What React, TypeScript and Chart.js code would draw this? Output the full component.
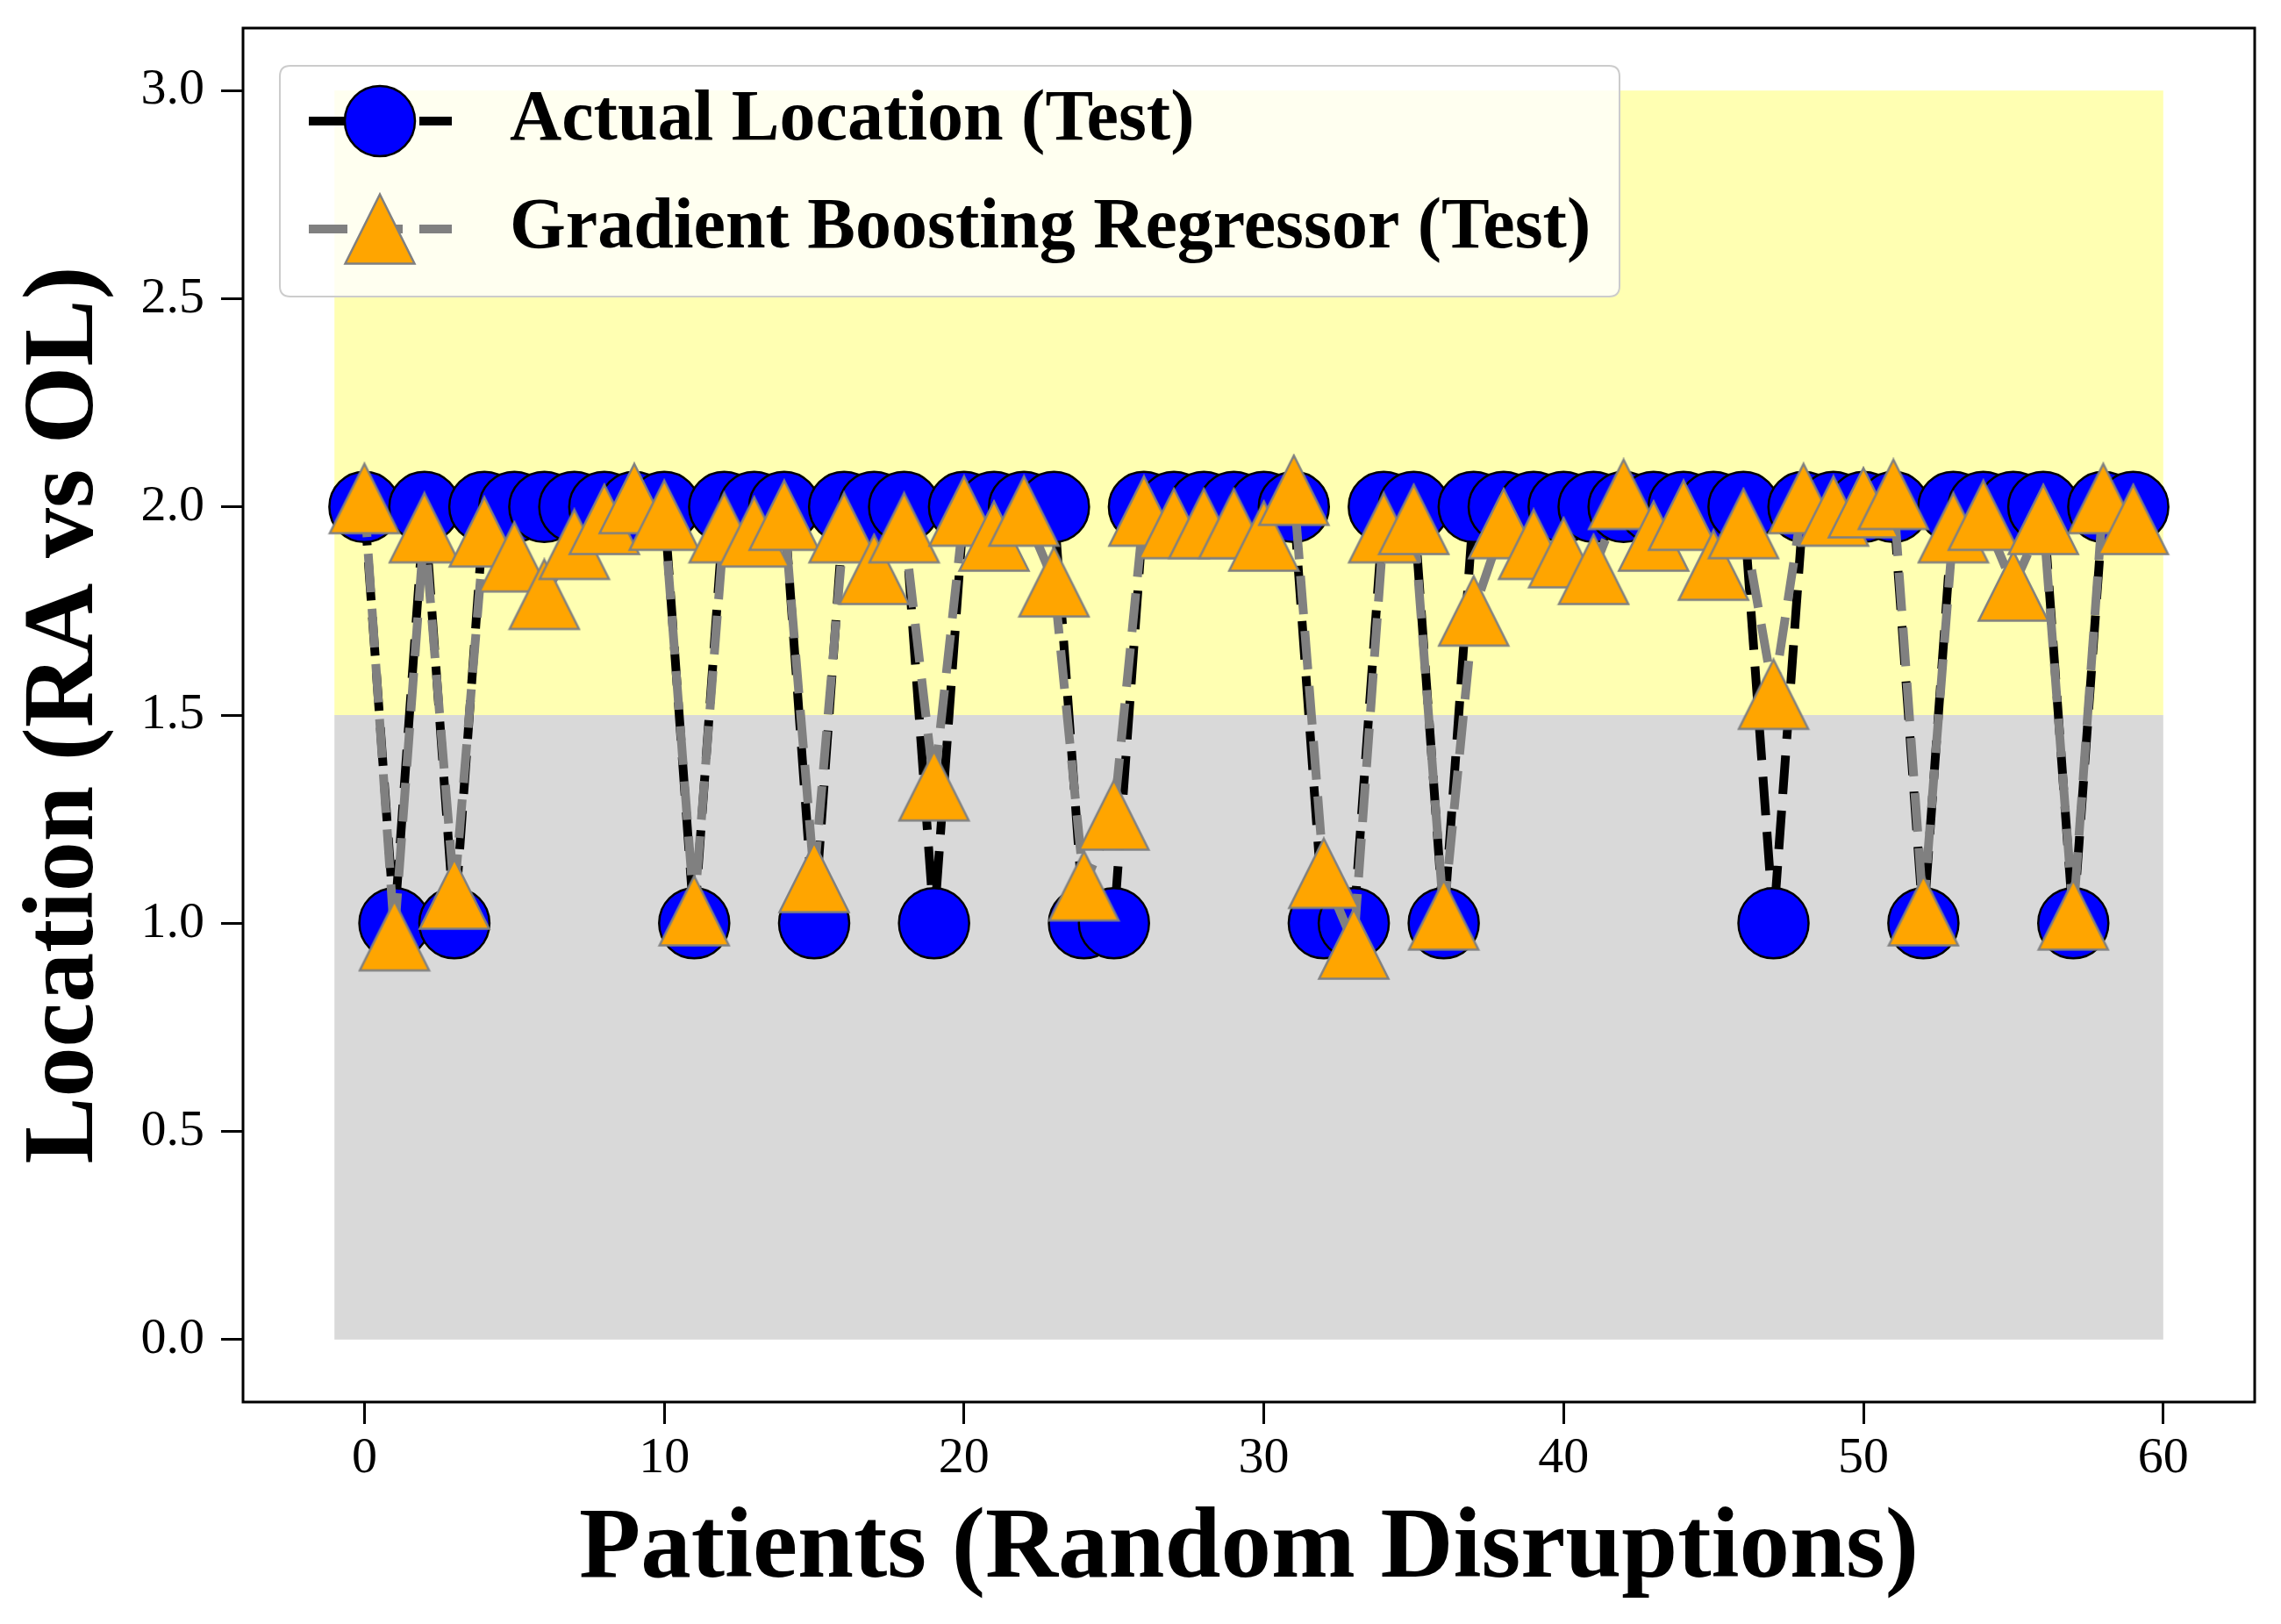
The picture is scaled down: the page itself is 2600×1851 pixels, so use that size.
import React, { useEffect, useRef } from "react";
import { Chart, registerables } from "chart.js";

Chart.register(...registerables);

// ---------------- data ----------------
const patients = [
  0, 1, 2, 3, 4, 5, 6, 7, 8, 9,
  10, 11, 12, 13, 14, 15, 16, 17, 18, 19,
  20, 21, 22, 23, 24, 25, 26, 27, 28, 29,
  30, 31, 32, 33, 34, 35, 36, 37, 38, 39,
  40, 41, 42, 43, 44, 45, 46, 47, 48, 49,
  50, 51, 52, 53, 54, 55, 56, 57, 58, 59,
];

const actualLocation = [
  2, 1, 2, 1, 2, 2, 2, 2, 2, 2,
  2, 1, 2, 2, 2, 1, 2, 2, 2, 1,
  2, 2, 2, 2, 1, 1, 2, 2, 2, 2,
  2, 2, 1, 1, 2, 2, 1, 2, 2, 2,
  2, 2, 2, 2, 2, 2, 2, 1, 2, 2,
  2, 2, 1, 2, 2, 2, 2, 1, 2, 2,
];

const gbrPrediction = [
  2.02, 0.97, 1.95, 1.07, 1.94, 1.88, 1.79, 1.91, 1.97, 2.02,
  1.98, 1.03, 1.95, 1.94, 1.98, 1.11, 1.95, 1.85, 1.95, 1.33,
  1.99, 1.93, 1.99, 1.82, 1.09, 1.26, 1.99, 1.96, 1.96, 1.96,
  1.93, 2.04, 1.12, 0.95, 1.95, 1.97, 1.02, 1.75, 1.96, 1.91,
  1.89, 1.85, 2.03, 1.93, 1.98, 1.86, 1.96, 1.55, 2.02, 1.99,
  2.01, 2.03, 1.03, 1.95, 1.98, 1.81, 1.97, 1.02, 2.02, 1.97,
];

const seriesLabels = ["Actual Location (Test)", "Gradient Boosting Regressor (Test)"];
const xTickValues = [0, 10, 20, 30, 40, 50, 60];
const yTickValues = [0, 0.5, 1.0, 1.5, 2.0, 2.5, 3.0];
const bandXRange = [-1, 60];
const upperBand = [1.5, 3.0];
const lowerBand = [0, 1.5];
const xLabel = "Patients (Random Disruptions)";
const yLabel = "Location (RA vs OL)";

// ---------------- styles ----------------
const SERIF = '"Liberation Serif", "Times New Roman", Times, serif';
const BLUE = "#0000ff";
const ORANGE = "#ffa500";
const GRAY = "#808080";
const DASH = [44, 19];
const LINE_W = 10;

function makeTriangle(size: number, fill: string, stroke: string, lw: number) {
  const c = document.createElement("canvas");
  c.width = size;
  c.height = size;
  const ctx = c.getContext("2d")!;
  const p = lw;
  ctx.beginPath();
  ctx.moveTo(size / 2, p);
  ctx.lineTo(size - p, size - p);
  ctx.lineTo(p, size - p);
  ctx.closePath();
  ctx.fillStyle = fill;
  ctx.fill();
  ctx.lineWidth = lw;
  ctx.strokeStyle = stroke;
  ctx.lineJoin = "miter";
  ctx.stroke();
  return c;
}

function zeroPad(s: any) {
  s.paddingTop = 0;
  s.paddingBottom = 0;
  s.paddingLeft = 0;
  s.paddingRight = 0;
}

export default function App() {
  const ref = useRef<HTMLCanvasElement | null>(null);

  useEffect(() => {
    document.body.style.margin = "0";
    document.body.style.overflow = "hidden";
    const canvas = ref.current;
    if (!canvas) return;
    const tri = makeTriangle(84, ORANGE, GRAY, 2.5);

    const bandsPlugin = {
      id: "bands",
      beforeDatasetsDraw(chart: any) {
        const { ctx, scales } = chart;
        const xs = scales.x;
        const ys = scales.y;
        const x0 = xs.getPixelForValue(bandXRange[0]);
        const x1 = xs.getPixelForValue(bandXRange[1]);
        ctx.save();
        ctx.fillStyle = "rgb(255,255,178)";
        let yT = ys.getPixelForValue(upperBand[1]);
        let yB = ys.getPixelForValue(upperBand[0]);
        ctx.fillRect(x0, yT, x1 - x0, yB - yT);
        ctx.fillStyle = "rgb(217,217,217)";
        yT = ys.getPixelForValue(lowerBand[1]);
        yB = ys.getPixelForValue(lowerBand[0]);
        ctx.fillRect(x0, yT, x1 - x0, yB - yT);
        ctx.restore();
      },
    };

    const framePlugin = {
      id: "frameAndLegend",
      afterDraw(chart: any) {
        const { ctx, chartArea: a } = chart;
        ctx.save();
        // legend
        const lx = a.left + 42;
        const ly = a.top + 43;
        const lw = 1527;
        const lh = 263;
        const r = 12;
        ctx.beginPath();
        ctx.moveTo(lx + r, ly);
        ctx.lineTo(lx + lw - r, ly);
        ctx.quadraticCurveTo(lx + lw, ly, lx + lw, ly + r);
        ctx.lineTo(lx + lw, ly + lh - r);
        ctx.quadraticCurveTo(lx + lw, ly + lh, lx + lw - r, ly + lh);
        ctx.lineTo(lx + r, ly + lh);
        ctx.quadraticCurveTo(lx, ly + lh, lx, ly + lh - r);
        ctx.lineTo(lx, ly + r);
        ctx.quadraticCurveTo(lx, ly, lx + r, ly);
        ctx.closePath();
        ctx.fillStyle = "rgba(255,255,255,0.8)";
        ctx.fill();
        ctx.lineWidth = 2;
        ctx.strokeStyle = "#cccccc";
        ctx.stroke();

        const hx0 = lx + 33;
        const hx1 = lx + 196;
        const mx = lx + 114;
        const rows = [ly + 63, ly + 186];
        const colors = ["#000000", GRAY];
        for (let k = 0; k < 2; k++) {
          const y = rows[k];
          ctx.beginPath();
          ctx.setLineDash(DASH);
          ctx.lineDashOffset = 0;
          ctx.lineWidth = LINE_W;
          ctx.strokeStyle = colors[k];
          ctx.lineCap = "butt";
          ctx.moveTo(hx0, y);
          ctx.lineTo(hx1, y);
          ctx.stroke();
          ctx.setLineDash([]);
          if (k === 0) {
            ctx.beginPath();
            ctx.arc(mx, y, 40, 0, Math.PI * 2);
            ctx.fillStyle = BLUE;
            ctx.fill();
            ctx.lineWidth = 2.5;
            ctx.strokeStyle = "#000";
            ctx.stroke();
          } else {
            ctx.drawImage(tri, mx - tri.width / 2, y - tri.height / 2);
          }
          ctx.fillStyle = "#000";
          ctx.font = `bold 82px ${SERIF}`;
          ctx.textAlign = "left";
          ctx.textBaseline = "middle";
          ctx.fillText(seriesLabels[k], lx + 262, y);
        }

        // frame
        ctx.lineWidth = 3;
        ctx.strokeStyle = "#000";
        ctx.strokeRect(a.left, a.top, a.right - a.left, a.bottom - a.top);
        ctx.restore();
      },
    };

    const chart = new Chart(canvas, {
      type: "line",
      data: {
        datasets: [
          {
            label: seriesLabels[1],
            data: patients.map((x, i) => ({ x, y: gbrPrediction[i] })),
            borderColor: GRAY,
            borderWidth: LINE_W,
            borderDash: DASH,
            tension: 0,
            fill: false,
            pointStyle: tri as any,
            pointRadius: 40,
            pointBackgroundColor: ORANGE,
            pointBorderColor: GRAY,
            order: 1,
          },
          {
            label: seriesLabels[0],
            data: patients.map((x, i) => ({ x, y: actualLocation[i] })),
            borderColor: "#000000",
            borderWidth: LINE_W,
            borderDash: DASH,
            tension: 0,
            fill: false,
            pointStyle: "circle",
            pointRadius: 40,
            pointBackgroundColor: BLUE,
            pointBorderColor: "#000000",
            pointBorderWidth: 2.5,
            order: 2,
          },
        ],
      },
      options: {
        animation: false,
        responsive: true,
        maintainAspectRatio: false,
        events: [],
        layout: { autoPadding: false, padding: { top: 32, right: 30, left: 0, bottom: 0 } },
        plugins: {
          legend: { display: false },
          tooltip: { enabled: false },
        },
        scales: {
          x: {
            type: "linear",
            min: -4.05,
            max: 63.05,
            afterFit: (s: any) => {
              s.height = 253;
              zeroPad(s);
            },
            afterBuildTicks: (s: any) => {
              s.ticks = xTickValues.map((v) => ({ value: v }));
            },
            ticks: {
              autoSkip: false,
              maxRotation: 0,
              padding: 5,
              color: "#000",
              font: { family: SERIF, size: 58 },
              callback: (v: any) => String(v),
            },
            grid: {
              display: true,
              drawOnChartArea: false,
              drawTicks: true,
              tickLength: 25,
              tickWidth: 3,
              tickColor: "#000",
            },
            border: { display: false },
            title: {
              display: true,
              text: xLabel,
              color: "#000",
              font: { family: SERIF, size: 115, weight: "bold" },
              padding: { top: 0, bottom: 15 },
            },
          },
          y: {
            type: "linear",
            min: -0.15,
            max: 3.15,
            afterFit: (s: any) => {
              s.width = 277;
              zeroPad(s);
            },
            afterBuildTicks: (s: any) => {
              s.ticks = yTickValues.map((v) => ({ value: v }));
            },
            ticks: {
              autoSkip: false,
              padding: 19,
              color: "#000",
              font: { family: SERIF, size: 58 },
              callback: (v: any) => Number(v).toFixed(1),
            },
            grid: {
              display: true,
              drawOnChartArea: false,
              drawTicks: true,
              tickLength: 25,
              tickWidth: 3,
              tickColor: "#000",
            },
            border: { display: false },
            title: {
              display: true,
              text: yLabel,
              color: "#000",
              font: { family: SERIF, size: 114, weight: "bold" },
              padding: { top: 7, bottom: 0 },
            },
          },
        },
      },
      plugins: [bandsPlugin, framePlugin],
    });

    return () => chart.destroy();
  }, []);

  return (
    <div style={{ width: 2600, height: 1851, position: "relative", background: "#fff" }}>
      <canvas ref={ref} />
    </div>
  );
}
